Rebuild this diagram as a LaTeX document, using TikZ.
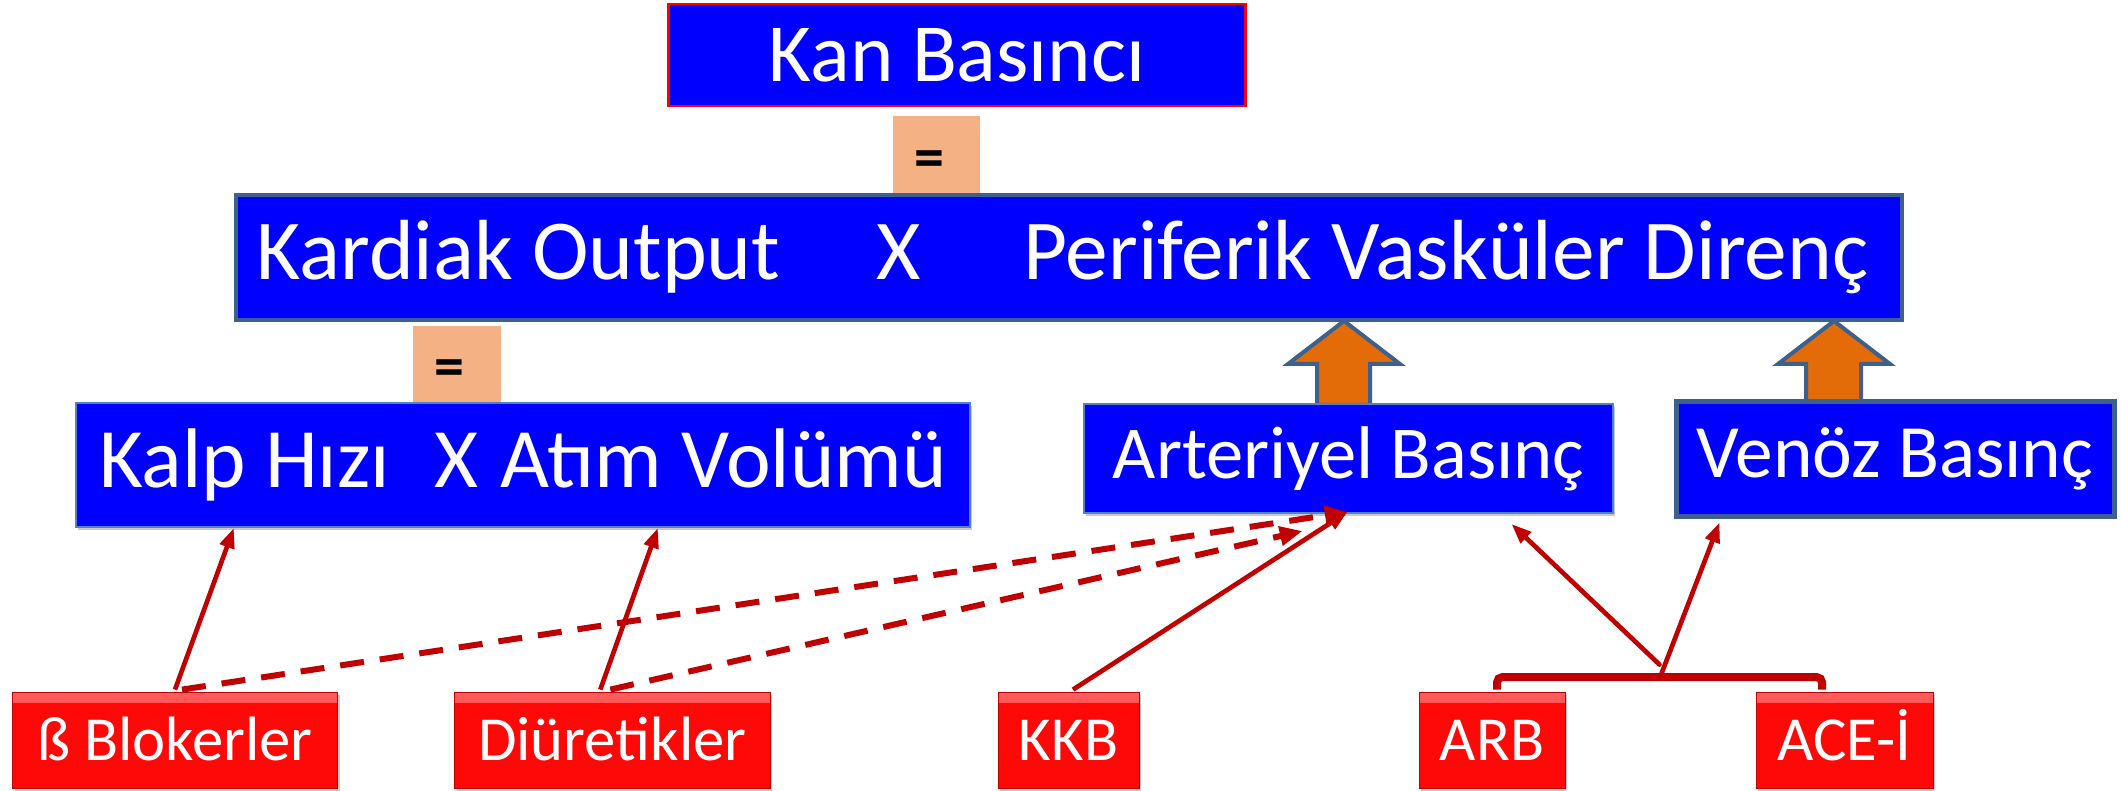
\documentclass[tikz,border=0pt]{standalone}
\usepackage{fontspec}
\setmainfont{Carlito}
\usetikzlibrary{arrows.meta,shadows,calc}

\definecolor{boxblue}{RGB}{0,0,255}
\definecolor{slate}{RGB}{62,96,140}
\definecolor{lightedge}{RGB}{80,130,200}
\definecolor{eqfill}{RGB}{244,177,131}
\definecolor{orangefill}{RGB}{227,108,9}
\definecolor{darkred}{RGB}{192,0,0}
\definecolor{redbase}{RGB}{255,8,8}
\definecolor{redtop}{RGB}{255,95,95}

\begin{document}
\begin{tikzpicture}[x=0.75pt,y=-0.75pt,
  bluebox/.style={fill=boxblue, text=white, inner sep=0pt},
  shadowed/.style={drop shadow={shadow xshift=1.5pt, shadow yshift=-2.5pt, opacity=0.3, fill=black!70}},
  eqbox/.style={fill=eqfill, inner sep=0pt, text height=33.5pt, text depth=0pt,
    font=\fontsize{45}{50}\selectfont\bfseries},
  drugbox/.style={fill=redbase, draw=red!75!black, line width=0.6pt, text=white,
    inner sep=0pt, minimum height=72pt, text height=30.3pt, text depth=0pt,
    font=\fontsize{47}{52}\selectfont, shadowed,
    path picture={\shade[top color=redtop, bottom color=redbase]
      (path picture bounding box.north west) rectangle ([yshift=-8pt]path picture bounding box.north east);}},
  blockarrow/.style={fill=orangefill, draw=slate, line width=3pt, line join=miter},
  solidarrow/.style={draw=darkred, line width=3.5pt, -{Triangle[length=15pt,width=11pt]}},
  dasharrow/.style={draw=darkred, line width=4.5pt, dash pattern=on 18pt off 12pt,
    -{Triangle[length=17pt,width=14pt]}},
  bracketstyle/.style={draw=darkred, line width=6pt, rounded corners=4pt}
]
\useasboundingbox (0,0) rectangle (2121,791);

% top level
\node[bluebox, draw=red, line width=2pt, minimum width=432.8pt, minimum height=76.5pt,
  font=\fontsize{62}{67}\selectfont] (kan) at (957,55) {Kan Basıncı};
\node[eqbox, minimum width=65.25pt, minimum height=59.25pt] (eq1) at (936.5,155.5) {=\kern11pt};

% cardiac output times peripheral resistance
\node[bluebox, draw=slate, line width=3pt, minimum width=1249.5pt, minimum height=93.75pt,
  font=\fontsize{64}{69}\selectfont] (co) at (1069,257.5)
  {Kardiak Output\hspace{72pt}X\hspace{77pt}Periferik Vasküler Direnç\kern10pt};
\node[eqbox, minimum width=66pt, minimum height=57.75pt] (eq2) at (457,364.5) {=\kern11pt};

% block arrows up into the resistance term
\draw[blockarrow] (1344,321) -- (1400,364) -- (1370,364) -- (1370,405) -- (1317,405) -- (1317,364) -- (1288,364) -- cycle;
\draw[blockarrow] (1834,321) -- (1890,364) -- (1861,364) -- (1861,404) -- (1806,404) -- (1806,364) -- (1778,364) -- cycle;

% second level
\node[bluebox, draw=lightedge, line width=1.5pt, minimum width=670pt, minimum height=93pt,
  font=\fontsize{63.5}{68}\selectfont, shadowed] (hr) at (523,465)
  {Kalp Hızı\hspace{33pt}X\hspace{17pt}Atım Volümü};
\node[bluebox, draw=lightedge, line width=1.5pt, minimum width=396.75pt, minimum height=81.75pt,
  font=\fontsize{56}{61}\selectfont, shadowed] (art) at (1348.5,458.5) {Arteriyel Basınç};
\node[bluebox, draw=slate, line width=3.75pt, minimum width=328.5pt, minimum height=85.5pt,
  font=\fontsize{56.5}{61}\selectfont] (ven) at (1895,459) {Venöz Basınç};

% drug groups
\node[drugbox, minimum width=243.75pt] (bb) at (175,740) {ß Blokerler};
\node[drugbox, minimum width=236.5pt] (dur) at (612.3,740) {Diüretikler};
\node[drugbox, minimum width=105.75pt] (kkb) at (1068.5,740) {KKB};
\node[drugbox, minimum width=109.5pt] (arb) at (1492,740) {ARB};
\node[drugbox, minimum width=132.75pt] (ace) at (1844.5,740) {ACE-İ};

% bracket joining ARB and ACE-I
\coordinate (bl) at ($(arb.north)+(5,-2)$);
\coordinate (br) at ($(ace.north)+(-22.5,-2)$);
\draw[bracketstyle] (bl) -- ++(0,-12.5) -| (br);
\coordinate (btip) at ($(bl)!0.5!(br)+(0,-25)$);

% effects
\draw[solidarrow] ($(bb.north)+(0,-2)$) -- ($(hr.south west)+(158.5,0)$);
\draw[solidarrow] ($(dur.north)+(-12,-2)$) -- ($(hr.south west)+(582.5,0)$);
\draw[dasharrow] ($(bb.north)+(7,-2)$) -- ($(art.south)+(-1,-2)$);
\draw[dasharrow] ($(dur.north)+(-2,-2)$) -- ($(art.south)+(-46,17)$);
\draw[solidarrow] ($(kkb.north)+(4.5,-2)$) -- ($(art.south)+(-1,-2)$);
\draw[solidarrow, line cap=round] (btip) -- ($(art.south)+(163,10)$);
\draw[solidarrow, line cap=round] ($(btip)+(2,9)$) -- ($(ven.south west)+(46,4)$);
\end{tikzpicture}
\end{document}
